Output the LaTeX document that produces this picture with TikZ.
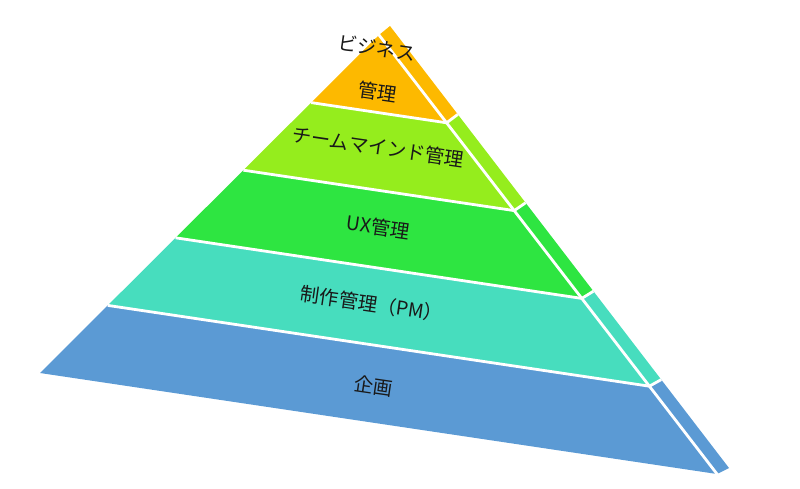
\documentclass[tikz,border=0pt]{standalone}
\usepackage{fontspec}
\newfontfamily\jp{Noto Sans CJK JP}
\usetikzlibrary{calc}
\definecolor{cOrange}{RGB}{253,185,0}
\definecolor{cLime}{RGB}{149,237,29}
\definecolor{cGreen}{RGB}{46,229,65}
\definecolor{cTeal}{RGB}{71,221,190}
\definecolor{cBlue}{RGB}{91,154,212}
\definecolor{cText}{RGB}{25,25,25}
\tikzset{
  gap/.style={draw=white, line width=2.8pt},
  lbl/.style={font=\jp\fontsize{19.3}{19.3}\selectfont, text=cText, rotate=-8.3, inner sep=0pt}
}
\begin{document}
\begin{tikzpicture}[x=1pt,y=-1pt]
\useasboundingbox (0,0) rectangle (800,488);
% key points
\coordinate (A) at (379,35);
\coordinate (L) at (40,373);
\coordinate (R) at (717,474);
\coordinate (S) at (390,26);
\coordinate (T) at (729,468);
% bands
\foreach \t/\u/\c in {0/0.2/cOrange,0.2/0.4/cLime,0.4/0.6/cGreen,0.6/0.8/cTeal,0.8/1/cBlue}{
  \fill[\c] ($(A)!\t!(L)$) -- ($(A)!\u!(L)$) -- ($(A)!\u!(R)$) -- ($(A)!\t!(R)$) -- cycle;
  \fill[\c] ($(A)!\t!(R)$) -- ($(A)!\u!(R)$) -- ($(S)!\u!(T)$) -- ($(S)!\t!(T)$) -- cycle;
}
% white gaps
\foreach \t in {0.2,0.4,0.6,0.8}{
  \coordinate (p) at ($(A)!\t!(L)$);
  \coordinate (q) at ($(A)!\t!(R)$);
  \coordinate (r) at ($(S)!\t!(T)$);
  \draw[gap] (p) -- (q) -- (r);
}
\draw[gap] ($(A)!-0.02!(R)$) -- ($(A)!1.01!(R)$);
% labels
\node[lbl] (l0) at (377,48) {ビジネス};
\node[lbl] (l1) at (378,92) {管理};
\node[lbl] (l2) at (378,147) {チームマインド管理};
\node[lbl] (l3) at (378,227) {UX管理};
\node[lbl] (l4) at (372,304) {制作管理（PM）};
\node[lbl] (l5) at (374,386) {企画};
\end{tikzpicture}
\end{document}
